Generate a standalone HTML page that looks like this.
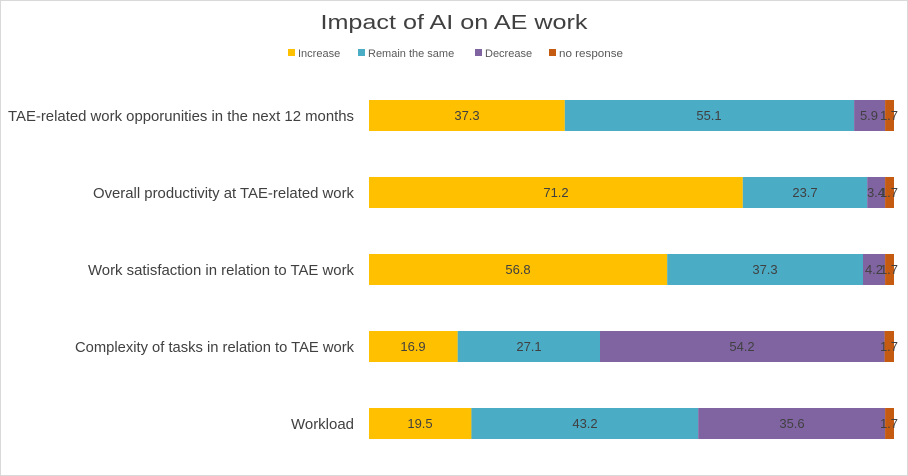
<!DOCTYPE html>
<html><head><style>
html,body{margin:0;padding:0;background:#fff;}
svg{display:block;font-family:"Liberation Sans",sans-serif;}
</style></head><body>
<svg width="908" height="476" viewBox="0 0 908 476">
<rect x="0.5" y="0.5" width="907" height="475" fill="#fff" stroke="#d9d9d9"/>
<text x="454" y="29" text-anchor="middle" font-size="20" fill="#404040" textLength="267" lengthAdjust="spacingAndGlyphs">Impact of AI on AE work</text>
<g font-size="11" fill="#595959">
<rect x="288" y="49" width="7" height="7" fill="#FFC000"/><text x="298" y="57">Increase</text>
<rect x="358" y="49" width="7" height="7" fill="#4BACC6"/><text x="368" y="57">Remain the same</text>
<rect x="475" y="49" width="7" height="7" fill="#8064A2"/><text x="485" y="57">Decrease</text>
<rect x="549" y="49" width="7" height="7" fill="#C55A11"/><text x="559" y="57" textLength="64" lengthAdjust="spacingAndGlyphs">no response</text>
</g>
<g font-size="14.5" fill="#404040" text-anchor="end">
<text x="354" y="121" textLength="346" lengthAdjust="spacingAndGlyphs">TAE-related work opporunities in the next 12 months</text>
<text x="354" y="198" textLength="261" lengthAdjust="spacingAndGlyphs">Overall productivity at TAE-related work</text>
<text x="354" y="275" textLength="266" lengthAdjust="spacingAndGlyphs">Work satisfaction in relation to TAE work</text>
<text x="354" y="352" textLength="279" lengthAdjust="spacingAndGlyphs">Complexity of tasks in relation to TAE work</text>
<text x="354" y="429" textLength="63" lengthAdjust="spacingAndGlyphs">Workload</text>
</g>
<g font-size="13" fill="#404040" text-anchor="middle">
<rect x="369" y="100" width="195.8" height="31" fill="#FFC000"/>
<rect x="564.8" y="100" width="289.3" height="31" fill="#4BACC6"/>
<rect x="854.1" y="100" width="31" height="31" fill="#8064A2"/>
<rect x="885.1" y="100" width="8.9" height="31" fill="#C55A11"/>
<text x="467" y="120">37.3</text><text x="709" y="120">55.1</text><text x="869" y="120">5.9</text><text x="889" y="120">1.7</text>
<rect x="369" y="177" width="373.8" height="31" fill="#FFC000"/>
<rect x="742.8" y="177" width="124.4" height="31" fill="#4BACC6"/>
<rect x="867.2" y="177" width="17.9" height="31" fill="#8064A2"/>
<rect x="885.1" y="177" width="8.9" height="31" fill="#C55A11"/>
<text x="556" y="197">71.2</text><text x="805" y="197">23.7</text><text x="876" y="197">3.4</text><text x="889" y="197">1.7</text>
<rect x="369" y="254" width="298.2" height="31" fill="#FFC000"/>
<rect x="667.2" y="254" width="195.8" height="31" fill="#4BACC6"/>
<rect x="863" y="254" width="22.1" height="31" fill="#8064A2"/>
<rect x="885.1" y="254" width="8.9" height="31" fill="#C55A11"/>
<text x="518" y="274">56.8</text><text x="765" y="274">37.3</text><text x="874" y="274">4.2</text><text x="889" y="274">1.7</text>
<rect x="369" y="331" width="88.7" height="31" fill="#FFC000"/>
<rect x="457.7" y="331" width="142.3" height="31" fill="#4BACC6"/>
<rect x="600" y="331" width="284.6" height="31" fill="#8064A2"/>
<rect x="884.6" y="331" width="9.4" height="31" fill="#C55A11"/>
<text x="413" y="351">16.9</text><text x="529" y="351">27.1</text><text x="742" y="351">54.2</text><text x="889" y="351">1.7</text>
<rect x="369" y="408" width="102.4" height="31" fill="#FFC000"/>
<rect x="471.4" y="408" width="226.8" height="31" fill="#4BACC6"/>
<rect x="698.2" y="408" width="186.9" height="31" fill="#8064A2"/>
<rect x="885.1" y="408" width="8.9" height="31" fill="#C55A11"/>
<text x="420" y="428">19.5</text><text x="585" y="428">43.2</text><text x="792" y="428">35.6</text><text x="889" y="428">1.7</text>
</g>
</svg>
</body></html>
